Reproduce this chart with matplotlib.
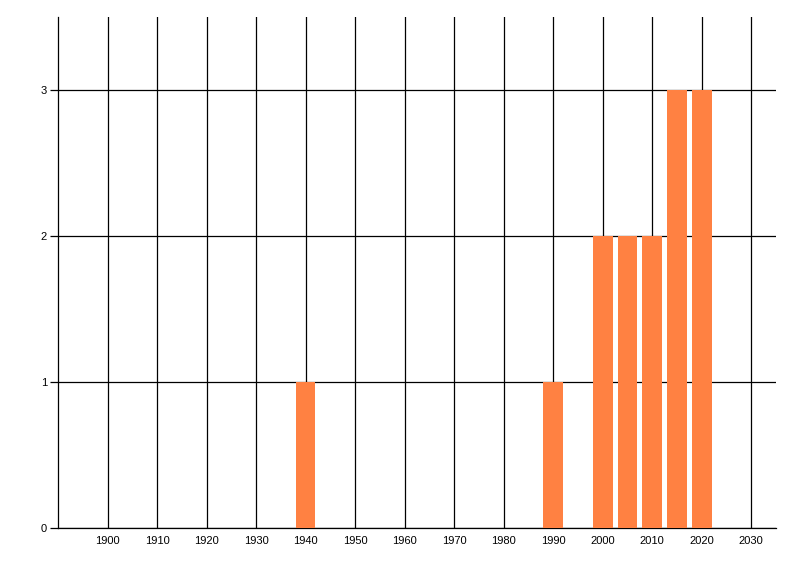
import matplotlib
matplotlib.use("Agg")
import matplotlib.pyplot as plt

years = [1940, 1990, 2000, 2005, 2010, 2015, 2020]
counts = [1, 1, 2, 2, 2, 3, 3]
x_ticks = list(range(1900, 2031, 10))
y_ticks = [0, 1, 2, 3]

plt.rcParams['font.family'] = ['Liberation Sans', 'DejaVu Sans']

fig = plt.figure(figsize=(8, 5.76), dpi=100)
W, H = 800, 576
ax = fig.add_axes([58 / W, (H - 528) / H, (776 - 58) / W, (528 - 17) / H])

ax.bar(years, counts, width=4, color='#FF8142', zorder=3, linewidth=0)

ax.set_xlim(1890, 2035)
ax.set_ylim(0, 3.5)
ax.set_xticks(x_ticks)
ax.set_xticklabels([str(t) for t in x_ticks])
ax.set_yticks(y_ticks)
ax.set_yticklabels([str(t) for t in y_ticks])

ax.grid(True, color='black', linewidth=0.9, zorder=0)
ax.set_axisbelow(True)
for s in ['top', 'right']:
    ax.spines[s].set_visible(False)
for s in ['left', 'bottom']:
    ax.spines[s].set_color('black')
    ax.spines[s].set_linewidth(0.9)

ax.tick_params(axis='x', length=0, pad=6, labelsize=8, colors='black')
ax.tick_params(axis='y', length=6, width=0.9, pad=2, labelsize=8, colors='black', direction='out')

fig.savefig('out.png', dpi=100, facecolor='white')
